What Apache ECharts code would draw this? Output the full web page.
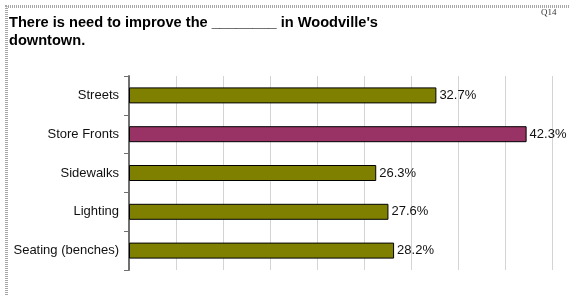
<!DOCTYPE html>
<html>
<head>
<meta charset="utf-8">
<script src="https://cdn.jsdelivr.net/npm/echarts@6/dist/echarts.min.js"></script>
<style>
  html, body { margin: 0; padding: 0; background: #fff; }
  #chart { width: 570px; height: 295px; }
</style>
</head>
<body>
<div id="chart"></div>
<script>
const categories = ['Streets', 'Store Fronts', 'Sidewalks', 'Lighting', 'Seating (benches)']
const values = [32.7, 42.3, 26.3, 27.6, 28.2]
const barColors = ['#808000', '#993366', '#808000', '#808000', '#808000']

const chart = echarts.init(document.getElementById('chart'))

chart.setOption({
  animation: false,
  textStyle: { fontFamily: 'Liberation Sans, Arial, sans-serif' },
  graphic: [
    // dotted frame on the left and top
    {
      type: 'polyline',
      shape: { points: [[6.5, 295], [6.5, 6.5], [570, 6.5]] },
      style: { stroke: '#a6a6a6', lineWidth: 3, lineDash: [1, 1], fill: null },
      silent: true,
    },
    {
      type: 'text',
      left: 9,
      top: 14,
      style: {
        text: "There is need to improve the ________ in Woodville's\ndowntown.",
        font: 'bold 14.6px Liberation Sans, Arial, sans-serif',
        lineHeight: 18,
        fill: '#000',
      },
    },
    {
      type: 'text',
      left: 541,
      top: 8,
      style: {
        text: 'Q14',
        font: '9px Liberation Serif, Times New Roman, serif',
        fill: '#333',
      },
    },
  ],
  grid: { left: 129, right: 18, top: 76, bottom: 25 },
  xAxis: {
    type: 'value',
    min: 0,
    max: 45,
    interval: 5,
    axisLabel: { show: false },
    axisLine: { show: false },
    axisTick: { show: false },
    splitLine: { show: true, lineStyle: { color: '#d4d4d4', width: 1 } },
  },
  yAxis: {
    type: 'category',
    inverse: true,
    data: categories,
    axisLine: { show: true, lineStyle: { color: '#707070', width: 2 } },
    axisTick: { show: true, length: 5, lineStyle: { color: '#707070', width: 1 } },
    axisLabel: { margin: 10, fontSize: 13, color: '#111' },
  },
  series: [
    {
      type: 'bar',
      data: values.map((v, i) => ({ value: v, itemStyle: { color: barColors[i] } })),
      barWidth: 16,
      itemStyle: { borderColor: '#000', borderWidth: 1 },
      label: {
        show: true,
        position: 'right',
        distance: 3,
        fontSize: 13,
        color: '#111',
        formatter: (p) => p.value.toFixed(1) + '%',
      },
    },
  ],
})
</script>
</body>
</html>
